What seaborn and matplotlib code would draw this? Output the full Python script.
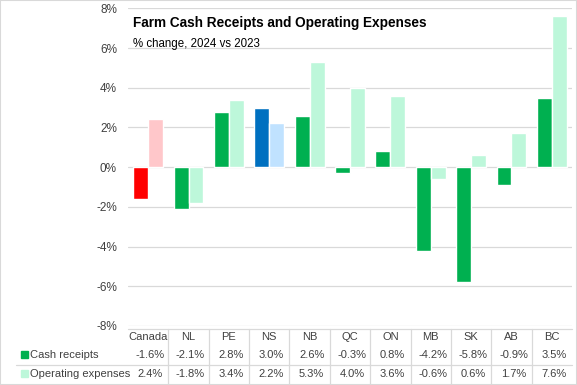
import numpy as np
import pandas as pd
import matplotlib
matplotlib.use("Agg")
import matplotlib.pyplot as plt
import seaborn as sns

regions = ["Canada", "NL", "PE", "NS", "NB", "QC", "ON", "MB", "SK", "AB", "BC"]
cash_receipts = [-1.6, -2.1, 2.8, 3.0, 2.6, -0.3, 0.8, -4.2, -5.8, -0.9, 3.5]
operating_expenses = [2.4, -1.8, 3.4, 2.2, 5.3, 4.0, 3.6, -0.6, 0.6, 1.7, 7.6]
series_names = ["Cash receipts", "Operating expenses"]
y_ticks = [-8, -6, -4, -2, 0, 2, 4, 6, 8]

df = pd.DataFrame({
    "region": regions * 2,
    "series": [series_names[0]] * len(regions) + [series_names[1]] * len(regions),
    "value": cash_receipts + operating_expenses,
})

sns.set_style("white")
plt.rcParams["font.family"] = ["Liberation Sans", "DejaVu Sans"]

GREEN = "#00B050"
LIGHT_GREEN = "#BDF7DA"
GRID = "#D9D9D9"
TXT = "#404040"

fig = plt.figure(figsize=(5.77, 3.85), dpi=100)
W, H = 577, 385
ax = fig.add_axes([128 / W, 1 - 326 / H, 444 / W, (326 - 8.3) / H])

sns.barplot(data=df, x="region", y="value", hue="series", order=regions,
            hue_order=series_names, palette=[GREEN, LIGHT_GREEN],
            width=0.74, saturation=1, legend=False, ax=ax, zorder=3)

# highlight Canada and NS
ax.containers[0][0].set_facecolor("#FF0000")
ax.containers[1][0].set_facecolor("#FFC7CA")
ax.containers[0][3].set_facecolor("#0070C0")
ax.containers[1][3].set_facecolor("#C0E2FF")

ax.set_ylim(-8, 8)
ax.set_xlim(-0.5, len(regions) - 0.5)
ax.set_yticks(y_ticks)
ax.set_yticklabels([f"{t}%" for t in y_ticks], fontsize=8.5, color=TXT)
ax.tick_params(axis="y", length=0, pad=8)
ax.set_xticks([])
ax.set_xlabel("")
ax.set_ylabel("")
for s in ax.spines.values():
    s.set_visible(False)
for t in y_ticks:
    ax.axhline(t, color=GRID, lw=0.9, zorder=1)

ax.text(0.012, 0.975, "Farm Cash Receipts and Operating Expenses",
        transform=ax.transAxes, fontsize=9.8, fontweight="bold", color="black",
        va="top", ha="left", zorder=5)
ax.text(0.012, 0.905, "% change, 2024 vs 2023", transform=ax.transAxes,
        fontsize=8.3, color="black", va="top", ha="left", zorder=5)

# data table under the plot
def fy(py):
    return 1 - py / H

line_kw = dict(color=GRID, lw=0.9)
fig.add_artist(plt.Line2D([128 / W, 572 / W], [fy(329), fy(329)], **line_kw))
fig.add_artist(plt.Line2D([16 / W, 572 / W], [fy(365), fy(365)], **line_kw))
cell_w = 444 / len(regions)
for i in range(1, len(regions)):
    x = (128 + i * cell_w) / W
    fig.add_artist(plt.Line2D([x, x], [fy(329), 0], **line_kw))

for i, reg in enumerate(regions):
    cx = (128 + (i + 0.5) * cell_w) / W
    fig.text(cx, fy(337), reg, ha="center", va="center", fontsize=8, color=TXT)
    fig.text(cx + 2 / W, fy(355), f"{cash_receipts[i]:.1f}%", ha="center",
             va="center", fontsize=8, color=TXT)
    fig.text(cx + 2 / W, fy(374), f"{operating_expenses[i]:.1f}%", ha="center",
             va="center", fontsize=8, color=TXT)

for row_y, name, col in [(355, series_names[0], GREEN), (374, series_names[1], LIGHT_GREEN)]:
    fig.patches.append(plt.Rectangle((21 / W, fy(row_y + 3)), 7 / W, 7 / H,
                                     transform=fig.transFigure, color=col))
    fig.text(30 / W, fy(row_y), name, ha="left", va="center", fontsize=8, color=TXT)

# chart border
fig.add_artist(plt.Rectangle((0, 0), 1, 1, transform=fig.transFigure,
                             fill=False, edgecolor=GRID, lw=1.5))

fig.savefig("out.png", dpi=100)
